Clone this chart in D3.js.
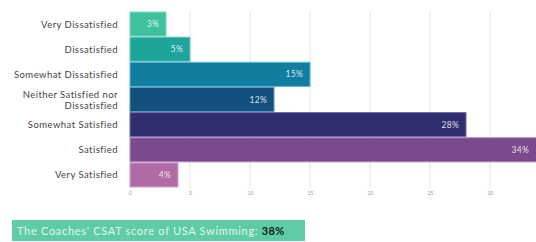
<!DOCTYPE html>
<html>
<head>
<meta charset="utf-8">
<script src="https://cdn.jsdelivr.net/npm/d3@7"></script>
<style>
  body { margin: 0; background: #fff; }
  svg { display: block; font-family: Lato, "Open Sans", sans-serif; }
</style>
</head>
<body>
<svg id="chart" width="536" height="242"></svg>
<script>
"use strict";

let categories = ["Very Dissatisfied", "Dissatisfied", "Somewhat Dissatisfied",
    "Neither Satisfied nor|Dissatisfied", "Somewhat Satisfied", "Satisfied", "Very Satisfied"];
let values = [3, 5, 15, 12, 28, 34, 4];
let colors = ["#3fc1a0", "#1fa49a", "#117ea0", "#12507f", "#2f2f6f", "#7a4a8c", "#b06ba6"];
let strokes = ["#7fd9c0", "#6fcdc4", "#5fb6d3", "#5a93c4", "#6d6db0", "#b38cc5", "#d3a2cc"];
let x_ticks = [0, 5, 10, 15, 20, 25, 30];
let score_text = "The Coaches' CSAT score of USA Swimming:";
let score_value = "38%";

let svg = d3.select("#chart");

let x = d3.scaleLinear().domain([0, 34]).range([130, 538]);
let y = d3.scaleBand().domain(categories).range([12, 187]).paddingInner(0.04);

// grid lines
svg.append("g").selectAll("line")
    .data(x_ticks.slice(1))
    .join("line")
    .attr("x1", d => x(d)).attr("x2", d => x(d))
    .attr("y1", 12).attr("y2", 188)
    .attr("stroke", "#e6e6e6").attr("stroke-width", 1);

// axis tick labels
let x_axis = d3.axisBottom(x).tickValues(x_ticks).tickSize(0).tickPadding(4);
let ax = svg.append("g").attr("transform", "translate(0,187)").call(x_axis);
ax.select(".domain").remove();
ax.selectAll("text").attr("fill", "#999").attr("font-size", 5);

// bars
svg.append("g").selectAll("rect")
    .data(categories)
    .join("rect")
    .attr("x", x(0))
    .attr("y", d => y(d))
    .attr("width", (d, i) => x(values[i]) - x(0))
    .attr("height", y.bandwidth())
    .attr("fill", (d, i) => colors[i])
    .attr("stroke", (d, i) => strokes[i])
    .attr("stroke-width", 1);

// value labels
svg.append("g").selectAll("text")
    .data(categories)
    .join("text")
    .attr("x", (d, i) => Math.min(x(values[i]), 536) - 7)
    .attr("y", d => y(d) + y.bandwidth() / 2 + 3)
    .attr("text-anchor", "end")
    .attr("fill", "#fff")
    .attr("fill-opacity", 0.85)
    .attr("font-size", 8.5)
    .attr("letter-spacing", 0.3)
    .text((d, i) => values[i] + "%");

// category labels
let labels = svg.append("g").selectAll("text")
    .data(categories)
    .join("text")
    .attr("x", 118)
    .attr("y", d => y(d) + y.bandwidth() / 2 + 3.5)
    .attr("text-anchor", "end")
    .attr("fill", "#444")
    .attr("font-size", 9.5)
    .attr("letter-spacing", 0.45);
labels.each(function(d) {
    let parts = d.split("|");
    let t = d3.select(this);
    if (parts.length == 1) {
        t.text(d);
    } else {
        t.attr("y", y(d) + y.bandwidth() / 2 - 2);
        parts.forEach((p, k) => {
            t.append("tspan").attr("x", 118).attr("dy", k == 0 ? 0 : 11).text(p);
        });
    }
});

// CSAT score box
svg.append("rect")
    .attr("x", 12).attr("y", 220).attr("width", 293).attr("height", 21)
    .attr("fill", "#5ecca5");
let score = svg.append("text")
    .attr("x", 17).attr("y", 234.5)
    .attr("font-size", 11)
    .attr("letter-spacing", 0.7);
score.append("tspan").attr("fill", "#fff").attr("fill-opacity", 0.85).text(score_text + " ");
score.append("tspan").attr("fill", "#1a1a1a").attr("font-weight", "bold").attr("letter-spacing", 0.3).text(score_value);
</script>
</body>
</html>
